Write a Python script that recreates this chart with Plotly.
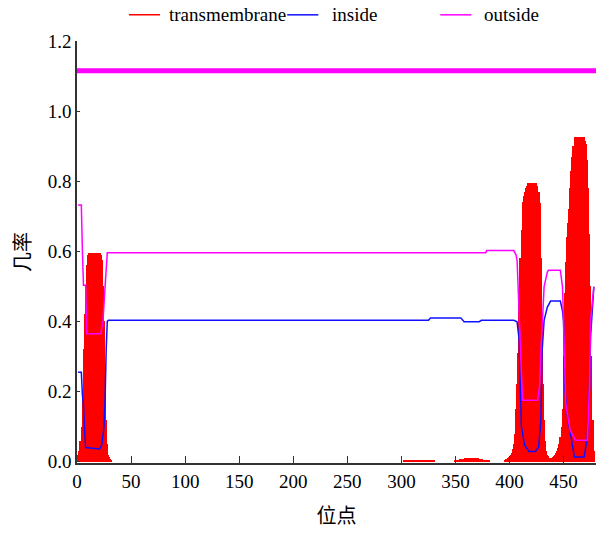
import plotly.graph_objects as go

# ---------------- axis extents and ticks ----------------
x_max = 480
x_ticks = [0, 50, 100, 150, 200, 250, 300, 350, 400, 450]
y_ticks = [0.0, 0.2, 0.4, 0.6, 0.8, 1.0, 1.2]
y_tick_text = ["0.0", "0.2", "0.4", "0.6", "0.8", "1.0", "1.2"]

# ---------------- transmembrane posterior probability (per residue) ----------------
# stretch 1: residues 1-32
tm1_start = 1
tm1 = [0.02, 0.03, 0.06, 0.10, 0.20, 0.32, 0.42, 0.50, 0.56, 0.59,
       0.596, 0.596, 0.596, 0.596, 0.596, 0.596, 0.596, 0.596, 0.596, 0.596,
       0.596, 0.59, 0.575, 0.50, 0.40, 0.26, 0.12, 0.05, 0.02, 0.012,
       0.008, 0.005]
# stretch 2: residues 302-330
tm2_start = 302
tm2 = [0.003, 0.004, 0.005, 0.005, 0.006, 0.006, 0.006, 0.006, 0.006, 0.006,
       0.006, 0.006, 0.006, 0.006, 0.006, 0.006, 0.006, 0.006, 0.006, 0.006,
       0.006, 0.006, 0.006, 0.006, 0.005, 0.005, 0.004, 0.004, 0.003]
# stretch 3: residues 349-381
tm3_start = 349
tm3 = [0.003, 0.004, 0.005, 0.006, 0.006, 0.007, 0.007, 0.007, 0.008, 0.008,
       0.009, 0.009, 0.009, 0.010, 0.010, 0.010, 0.010, 0.010, 0.010, 0.010,
       0.009, 0.009, 0.009, 0.008, 0.008, 0.007, 0.007, 0.006, 0.006, 0.005,
       0.004, 0.004, 0.003]
# stretch 4: residues 396-478
tm4_start = 396
tm4 = [0.005, 0.008, 0.010, 0.012, 0.015, 0.020, 0.025, 0.035, 0.050, 0.080,   # 396-405
       0.150, 0.220, 0.310, 0.450, 0.580, 0.660, 0.740, 0.757, 0.770, 0.780,   # 406-415
       0.787, 0.795, 0.795, 0.795, 0.795, 0.795, 0.795, 0.795, 0.795, 0.795,   # 416-425
       0.787, 0.770, 0.737, 0.580, 0.400, 0.220, 0.120, 0.060, 0.030, 0.020,   # 426-435
       0.015, 0.010, 0.010, 0.010, 0.012, 0.015, 0.020, 0.025, 0.030, 0.040,   # 436-445
       0.050, 0.070, 0.100, 0.150, 0.300, 0.480, 0.570, 0.640, 0.680, 0.720,   # 446-455
       0.780, 0.830, 0.870, 0.900, 0.927, 0.927, 0.927, 0.927, 0.927, 0.927,   # 456-465
       0.927, 0.927, 0.927, 0.927, 0.915, 0.905, 0.860, 0.780, 0.650, 0.500,   # 466-475
       0.300, 0.120, 0.030]                                                   # 476-478

# ---------------- inside / outside posterior probability ----------------
inside_pos = [1, 4, 5, 6, 7, 8, 21, 23, 25, 26,
              27, 28, 29, 325, 327, 355, 358, 372, 374, 404,
              407, 409, 410, 411, 414, 418, 424, 427, 429, 430,
              432, 435, 438, 447, 449, 450, 451, 454, 457, 460,
              469, 472, 474, 475, 478]
inside_prob = [0.255, 0.255, 0.19, 0.16, 0.09, 0.040, 0.036, 0.05, 0.10, 0.18,
               0.32, 0.40, 0.403, 0.403, 0.410, 0.410, 0.399, 0.399, 0.403, 0.403,
               0.399, 0.346, 0.213, 0.10, 0.047, 0.029, 0.029, 0.042, 0.118, 0.308,
               0.403, 0.441, 0.458, 0.458, 0.43, 0.40, 0.213, 0.118, 0.070, 0.013,
               0.013, 0.070, 0.213, 0.356, 0.499]

outside_pos = [1, 4, 5, 6, 8, 9, 22, 24, 26, 27,
               28, 378, 379, 404, 406, 407, 409, 410, 412, 426,
               428, 429, 432, 435, 436, 447, 449, 450, 451, 452,
               456, 461, 472, 473, 474, 475, 478]
outside_prob = [0.732, 0.732, 0.60, 0.503, 0.503, 0.365, 0.365, 0.40, 0.50, 0.56,
                0.596, 0.596, 0.602, 0.602, 0.59, 0.575, 0.423, 0.30, 0.175, 0.175,
                0.22, 0.308, 0.499, 0.541, 0.546, 0.546, 0.499, 0.40, 0.308, 0.166,
                0.09, 0.061, 0.061, 0.12, 0.213, 0.403, 0.499]

# predicted topology bar drawn above the curves (whole chain outside)
topology_start = 0
topology_end = 480
topology_level = 1.115

# ---------------- assemble transmembrane impulses ----------------
tm_x, tm_y = [], []
for start, vals in [(tm1_start, tm1), (tm2_start, tm2), (tm3_start, tm3), (tm4_start, tm4)]:
    tm_x.extend(range(start, start + len(vals)))
    tm_y.extend(vals)

RED = "#ff0000"
BLUE = "#1010ff"
MAGENTA = "#ff00ff"

serif = "Liberation Serif, Times New Roman, serif"
cjk = "Noto Sans CJK SC, sans-serif"

fig = go.Figure()

fig.add_trace(go.Bar(
    x=tm_x, y=tm_y, width=0.6,
    marker=dict(color=RED, line=dict(width=0)),
    name="transmembrane",
))
fig.add_trace(go.Scatter(
    x=inside_pos, y=inside_prob, mode="lines",
    line=dict(color=BLUE, width=1.5),
    name="inside",
))
fig.add_trace(go.Scatter(
    x=outside_pos, y=outside_prob, mode="lines",
    line=dict(color=MAGENTA, width=1.5),
    name="outside",
))
fig.add_trace(go.Scatter(
    x=[topology_start, topology_end], y=[topology_level, topology_level],
    mode="lines", line=dict(color=MAGENTA, width=5),
    name="topology", hoverinfo="skip",
))

# ---------------- key row above the plot area (line sample + label) ----------------
# (label, colour, line start, gap between line and label) in paper units
key_items = [("transmembrane", RED, 0.100, 0.013),
             ("inside", BLUE, 0.405, 0.023),
             ("outside", MAGENTA, 0.700, 0.021)]
key_y = 1.062
key_len = 0.060
for label, color, x0, gap in key_items:
    fig.add_shape(type="line", xref="paper", yref="paper",
                  x0=x0, x1=x0 + key_len, y0=key_y, y1=key_y,
                  line=dict(color=color, width=1.5))
    fig.add_annotation(xref="paper", yref="paper", x=x0 + key_len + gap, y=key_y,
                       xanchor="left", yanchor="middle", text=label, showarrow=False,
                       font=dict(family=serif, size=19, color="black"))

fig.update_layout(
    width=608, height=535,
    margin=dict(l=77, r=12, t=41, b=72),
    paper_bgcolor="white", plot_bgcolor="white",
    font=dict(family=serif, size=19, color="black"),
    bargap=0,
    showlegend=False,
)

fig.update_xaxes(
    range=[0, x_max], tickvals=x_ticks,
    ticks="inside", ticklen=7, tickwidth=1.2, tickcolor="#333333",
    showline=True, linecolor="#333333", linewidth=1.5,
    showgrid=False, zeroline=False,
    tickfont=dict(family=serif, size=19, color="black"),
    title=dict(text="位点", font=dict(family=cjk, size=20, color="black"), standoff=18),
)
fig.update_yaxes(
    range=[-0.004, 1.2], tickvals=y_ticks, ticktext=y_tick_text,
    ticks="inside", ticklen=3, tickwidth=1.2, tickcolor="#333333",
    showline=True, linecolor="#333333", linewidth=1.5,
    showgrid=False, zeroline=False,
    tickfont=dict(family=serif, size=19, color="black"),
    title=dict(text="几率", font=dict(family=cjk, size=20, color="black"), standoff=12),
)

fig.write_html("out.html")
